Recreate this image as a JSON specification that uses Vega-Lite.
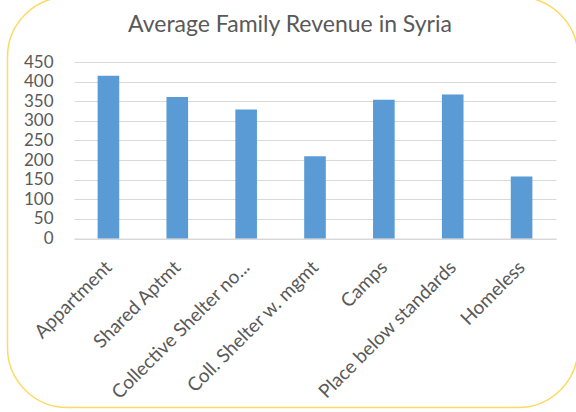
{
  "$schema": "https://vega.github.io/schema/vega-lite/v6.json",
  "width": 482,
  "height": 176.5,
  "autosize": "none",
  "padding": {"left": 74, "top": 62, "right": 20, "bottom": 173.5},
  "background": "white",
  "title": {
    "text": "Average Family Revenue in Syria",
    "font": "Lato",
    "fontSize": 23,
    "fontWeight": "normal",
    "color": "#595959",
    "anchor": "middle",
    "dx": -25,
    "offset": -41
  },
  "config": {
    "view": {"stroke": null},
    "axis": {
      "labelFont": "Lato",
      "labelColor": "#595959",
      "gridColor": "#D9D9D9",
      "domainColor": "#D9D9D9",
      "ticks": false
    }
  },
  "layer": [
    {
      "data": {"values": [
        {"category": "Appartment", "revenue": 415},
        {"category": "Shared Aptmt", "revenue": 361},
        {"category": "Collective Shelter no...", "revenue": 329},
        {"category": "Coll. Shelter w. mgmt", "revenue": 210},
        {"category": "Camps", "revenue": 354},
        {"category": "Place below standards", "revenue": 367},
        {"category": "Homeless", "revenue": 158}
      ]},
      "mark": {"type": "bar", "color": "#5B9BD5"},
      "encoding": {
        "x": {
          "field": "category",
          "type": "nominal",
          "sort": null,
          "scale": {"paddingInner": 0.686, "paddingOuter": 0.343},
          "axis": {"title": null, "labelAngle": -45, "labelPadding": 19, "labelOffset": -6, "labelFontSize": 19, "labelLimit": 0, "grid": false}
        },
        "y": {
          "field": "revenue",
          "type": "quantitative",
          "scale": {"domain": [0, 450], "nice": false},
          "axis": {"title": null, "values": [0, 50, 100, 150, 200, 250, 300, 350, 400, 450], "domain": false, "labelPadding": 21, "labelFontSize": 17}
        }
      }
    },
    {
      "data": {"values": [{"frame": "chart area"}]},
      "mark": {"type": "rect", "fill": null, "stroke": "#FFD966", "strokeWidth": 1.5, "cornerRadius": 60, "clip": false},
      "encoding": {
        "x": {"value": -66.5},
        "x2": {"value": 504},
        "y": {"value": -65},
        "y2": {"value": 345.5}
      }
    }
  ]
}
